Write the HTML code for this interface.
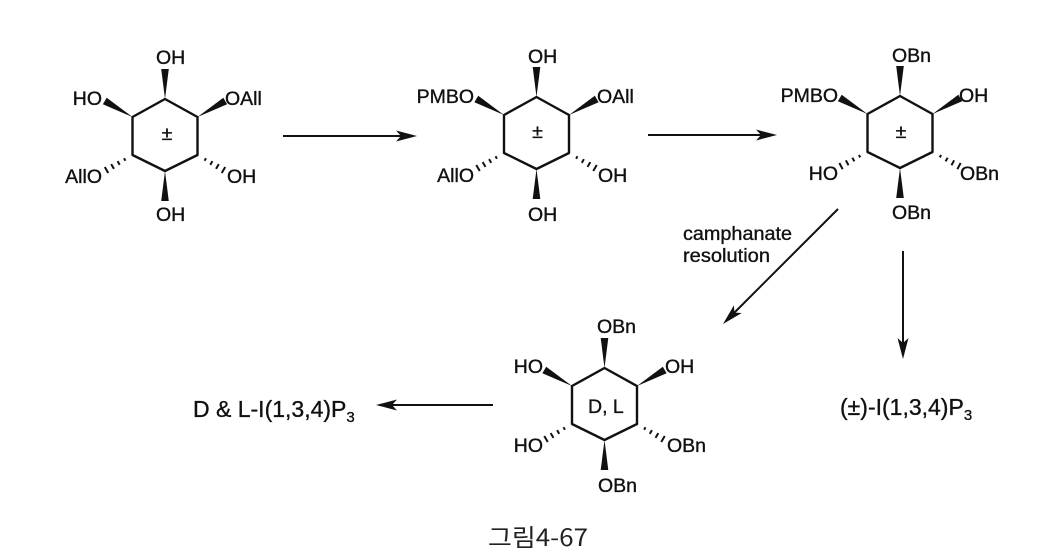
<!DOCTYPE html>
<html>
<head>
<meta charset="utf-8">
<style>
  html,body{margin:0;padding:0;background:#ffffff;}
  svg{display:block;}
  .t{font-family:"Liberation Sans",Arial,sans-serif;font-size:19.5px;fill:#111;stroke:#111;stroke-width:0.35;}
  .p{font-family:"Liberation Sans",Arial,sans-serif;font-size:23px;fill:#111;stroke:#111;stroke-width:0.35;}
  .s{font-size:15px;}
  .cap{font-family:"Noto Sans CJK KR","Liberation Sans",sans-serif;font-size:24px;fill:#222;}
</style>
</head>
<body>
<svg width="1049" height="553" viewBox="0 0 1049 553" xmlns="http://www.w3.org/2000/svg">
  <defs>
    <polygon id="wv" points="0,0 30,-3.8 30,3.8" fill="#111"/>
    <polygon id="wd" points="0,0 32,-3.8 32,3.8" fill="#111"/>
    <g id="hd" stroke="#111" stroke-width="2">
      <line x1="9" y1="-1.4" x2="9" y2="1.4"/>
      <line x1="16" y1="-2.1" x2="16" y2="2.1"/>
      <line x1="23" y1="-2.8" x2="23" y2="2.8"/>
      <line x1="30" y1="-3.5" x2="30" y2="3.5"/>
    </g>
    <polygon id="ah" points="0,0 -21,-5.5 -16,0 -21,5.5" fill="#111"/>
  </defs>

  <g stroke="#111" stroke-width="2.4" fill="none" stroke-linejoin="round">
    <path d="M165,99 L197.5,117 L197.5,155 L165,171 L132.5,155 L132.5,117 Z"/>
    <path d="M536.5,97 L569,115 L569,153 L536.5,169 L504,153 L504,115 Z"/>
    <path d="M900,96 L932.5,114 L932.5,152 L900,168 L867.5,152 L867.5,114 Z"/>
    <path d="M604.5,368 L637,386 L637,424 L604.5,440 L572,424 L572,386 Z"/>
  </g>

  <!-- Mol1 bonds -->
  <use href="#wv" transform="translate(165,99) rotate(-90)"/>
  <use href="#wd" transform="translate(132.5,117) rotate(-150)"/>
  <use href="#wd" transform="translate(197.5,117) rotate(-30)"/>
  <use href="#hd" transform="translate(132.5,155) rotate(150)"/>
  <use href="#hd" transform="translate(197.5,155) rotate(30)"/>
  <use href="#wv" transform="translate(165,171) rotate(90)"/>

  <!-- Mol2 bonds -->
  <use href="#wv" transform="translate(536.5,97) rotate(-90)"/>
  <use href="#wd" transform="translate(504,115) rotate(-150)"/>
  <use href="#wd" transform="translate(569,115) rotate(-30)"/>
  <use href="#hd" transform="translate(504,153) rotate(150)"/>
  <use href="#hd" transform="translate(569,153) rotate(30)"/>
  <use href="#wv" transform="translate(536.5,169) rotate(90)"/>

  <!-- Mol3 bonds -->
  <use href="#wv" transform="translate(900,96) rotate(-90)"/>
  <use href="#wd" transform="translate(867.5,114) rotate(-150)"/>
  <use href="#wd" transform="translate(932.5,114) rotate(-30)"/>
  <use href="#hd" transform="translate(867.5,152) rotate(152)"/>
  <use href="#hd" transform="translate(932.5,152) rotate(28)"/>
  <use href="#wv" transform="translate(900,168) rotate(90)"/>

  <!-- Mol4 bonds -->
  <use href="#wv" transform="translate(604.5,368) rotate(-90)"/>
  <use href="#wd" transform="translate(572,386) rotate(-150)"/>
  <use href="#wd" transform="translate(637,386) rotate(-30)"/>
  <use href="#hd" transform="translate(572,424) rotate(150)"/>
  <use href="#hd" transform="translate(637,424) rotate(30)"/>
  <use href="#wv" transform="translate(604.5,440) rotate(90)"/>

  <!-- Arrows -->
  <g stroke="#111" stroke-width="2">
    <line x1="283" y1="136" x2="402" y2="136"/>
    <line x1="648" y1="135" x2="762" y2="135"/>
    <line x1="838" y1="209" x2="734" y2="313"/>
    <line x1="903" y1="251" x2="903" y2="345"/>
    <line x1="493" y1="405" x2="390" y2="405"/>
  </g>
  <use href="#ah" transform="translate(417,136)"/>
  <use href="#ah" transform="translate(777,135)"/>
  <use href="#ah" transform="translate(723,324) rotate(135)"/>
  <use href="#ah" transform="translate(903,359) rotate(90)"/>
  <use href="#ah" transform="translate(376,405) rotate(180)"/>

  <!-- Mol1 labels -->
  <text class="t" x="156" y="64">OH</text>
  <text class="t" x="102" y="105" text-anchor="end">HO</text>
  <text class="t" x="225" y="105">OAll</text>
  <text class="t" x="102" y="183" text-anchor="end">AllO</text>
  <text class="t" x="227" y="183">OH</text>
  <text class="t" x="156" y="221">OH</text>
  <text class="t" x="167" y="140" text-anchor="middle">±</text>

  <!-- Mol2 labels -->
  <text class="t" x="528" y="63">OH</text>
  <text class="t" x="474" y="103" text-anchor="end">PMBO</text>
  <text class="t" x="597" y="103">OAll</text>
  <text class="t" x="474" y="182" text-anchor="end">AllO</text>
  <text class="t" x="598" y="182">OH</text>
  <text class="t" x="528" y="221">OH</text>
  <text class="t" x="537.5" y="138" text-anchor="middle">±</text>

  <!-- Mol3 labels -->
  <text class="t" x="892" y="62">OBn</text>
  <text class="t" x="838" y="102" text-anchor="end">PMBO</text>
  <text class="t" x="959" y="102">OH</text>
  <text class="t" x="838" y="180" text-anchor="end">HO</text>
  <text class="t" x="960" y="180">OBn</text>
  <text class="t" x="892" y="219">OBn</text>
  <text class="t" x="901" y="138" text-anchor="middle">±</text>

  <!-- Mol4 labels -->
  <text class="t" x="597" y="333">OBn</text>
  <text class="t" x="543" y="373" text-anchor="end">HO</text>
  <text class="t" x="665" y="373">OH</text>
  <text class="t" x="543" y="452" text-anchor="end">HO</text>
  <text class="t" x="667" y="452">OBn</text>
  <text class="t" x="598" y="492">OBn</text>
  <text class="t" x="588" y="413">D, L</text>

  <!-- arrow labels -->
  <text class="t" x="683" y="240" textLength="109" lengthAdjust="spacingAndGlyphs">camphanate</text>
  <text class="t" x="683" y="262" textLength="87" lengthAdjust="spacingAndGlyphs">resolution</text>

  <!-- products -->
  <text class="p" x="193" y="417">D &amp; L-I(1,3,4)P<tspan class="s" dy="5">3</tspan></text>
  <text class="p" x="840" y="415">(±)-I(1,3,4)P<tspan class="s" dy="5">3</tspan></text>

  <!-- caption -->
  <text class="cap" x="488" y="546" textLength="100" lengthAdjust="spacingAndGlyphs">그림4-67</text>
</svg>
</body>
</html>
